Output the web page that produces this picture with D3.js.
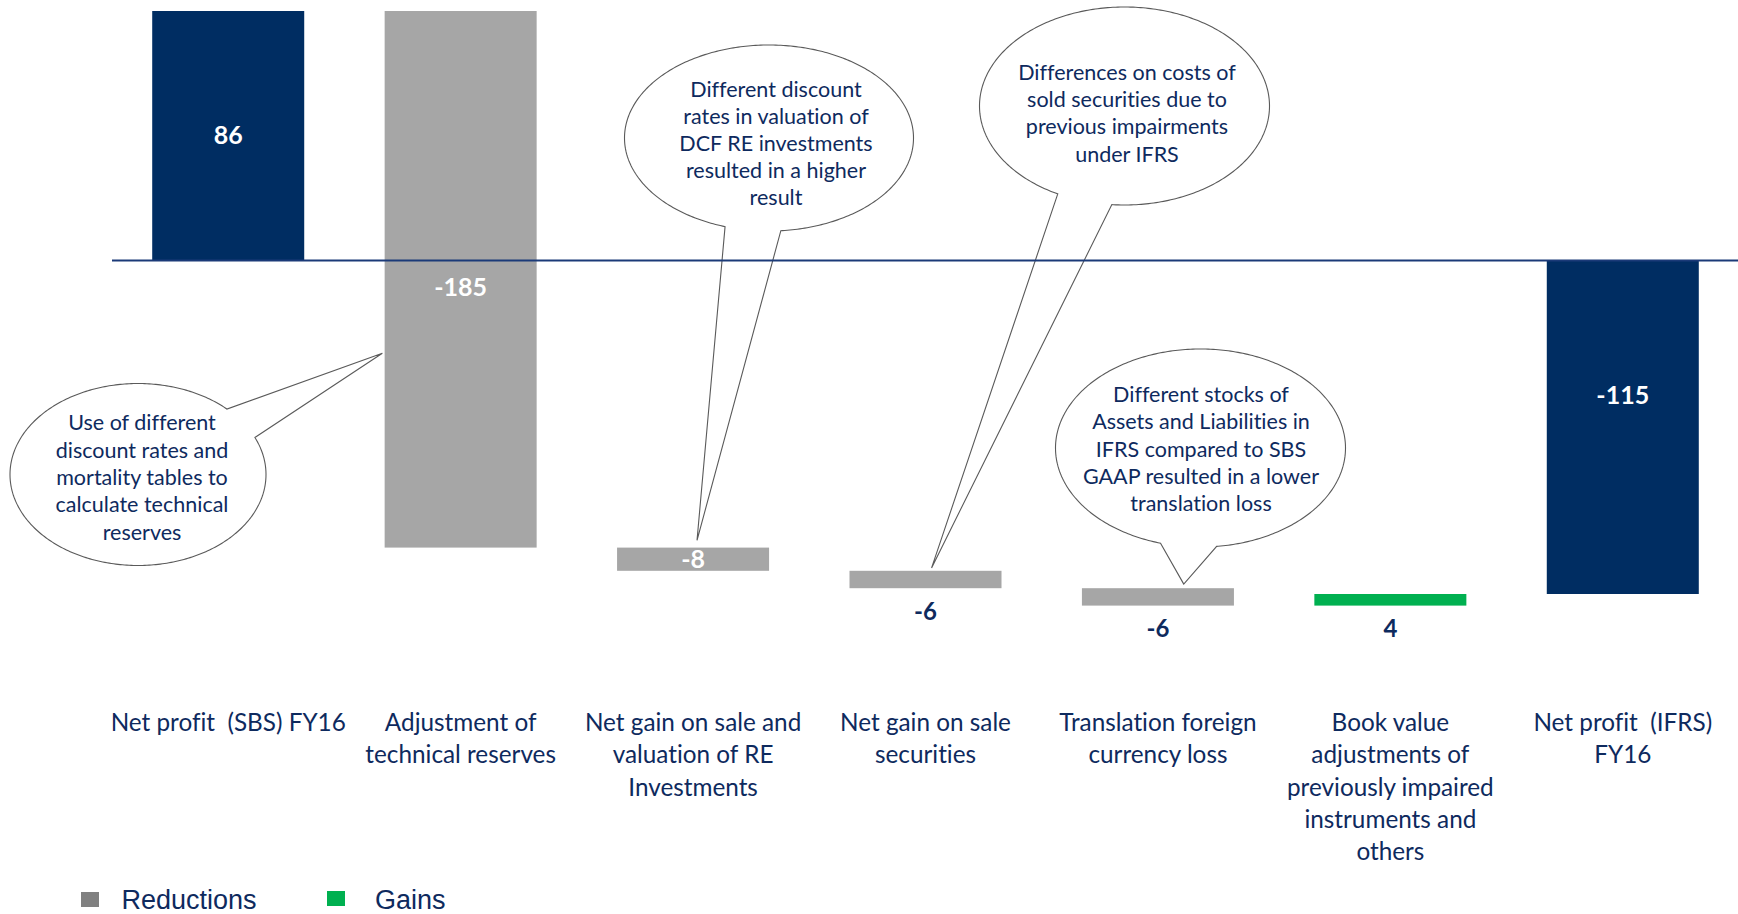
<!DOCTYPE html>
<html>
<head>
<meta charset="utf-8">
<script src="https://cdn.jsdelivr.net/npm/d3@7"></script>
<style>
  html, body { margin: 0; padding: 0; background: #fff; }
  svg { display: block; }
  text { white-space: pre; font-variant-ligatures: none; font-feature-settings: "liga" 0, "clig" 0; }
</style>
</head>
<body>
<svg id="chart" width="1738" height="914"></svg>
<script>
// ---------------- data ----------------
const categories = ["c1", "c2", "c3", "c4", "c5", "c6", "c7"];
const categoryLabels = [
  ["Net profit  (SBS) FY16"],
  ["Adjustment of", "technical reserves"],
  ["Net gain on sale and", "valuation of RE", "Investments"],
  ["Net gain on sale", "securities"],
  ["Translation foreign", "currency loss"],
  ["Book value", "adjustments of", "previously impaired", "instruments and", "others"],
  ["Net profit  (IFRS)", "FY16"]
];
const values = [86, -185, -8, -6, -6, 4, -115];
const barKinds = ["total", "reduction", "reduction", "reduction", "reduction", "gain", "total"];
const valueLabels = ["86", "-185", "-8", "-6", "-6", "4", "-115"];
const labelModes = ["inside", "insideTop", "inside", "below", "below", "below", "insideUpper"];
const legendItems = ["Reductions", "Gains"];

const calloutTexts = [
  ["Use of different", "discount rates and", "mortality tables to", "calculate technical", "reserves"],
  ["Different discount", "rates in valuation of", "DCF RE investments", "resulted in a higher", "result"],
  ["Differences on costs of", "sold securities due to", "previous impairments", "under IFRS"],
  ["Different stocks of", "Assets and Liabilities in", "IFRS compared to SBS", "GAAP resulted in a lower", "translation loss"]
];
// callout pointer targets: category index, fraction across the band, value
const calloutTargets = [
  { cat: 1, frac: -0.015, value: -32 },
  { cat: 2, frac: 0.526, value: -96.5 },
  { cat: 3, frac: 0.54, value: -106 },
  { cat: 4, frac: 0.67, value: -111.6 }
];

// ---------------- layout ----------------
const NAVY = "#002D62", GREY = "#A6A6A6", GREEN = "#00B050", TEXT = "#0E2A5E";
const colorOf = { total: NAVY, reduction: GREY, gain: GREEN };
const legendColors = ["#808080", GREEN];

// callout ellipse geometry (layout)
const calloutShapes = [
  { cx: 138, cy: 474.5, rx: 128, ry: 91, gap: [-46, -24], tx: 142, ty: 422.7, lh: 27.4 },
  { cx: 769, cy: 138, rx: 144.5, ry: 93, gap: [85.3, 107.7], tx: 776, ty: 89.3, lh: 27.1 },
  { cx: 1124.5, cy: 106, rx: 145, ry: 99, gap: [95, 117.4], tx: 1127, ty: 72.7, lh: 27.1 },
  { cx: 1200.5, cy: 448, rx: 145, ry: 99, gap: [83.6, 106], tx: 1201, ty: 394.3, lh: 27.4 }
];

const svg = d3.select("#chart");

// waterfall computation
let running = 0;
const bars = values.map((v, i) => {
  let start, end;
  if (barKinds[i] === "total") { start = 0; end = v; running = v; }
  else { start = running; end = running + v; running = end; }
  return { cat: categories[i], value: v, start, end, kind: barKinds[i], label: valueLabels[i], mode: labelModes[i], i };
});

const x = d3.scaleBand().domain(categories).range([112, 1739]).paddingInner(0.346).paddingOuter(0.173);
const y = d3.scaleLinear().domain([-115, 86]).range([594, 11]);

// bars
svg.append("g").selectAll("rect").data(bars).join("rect")
  .attr("x", d => x(d.cat))
  .attr("width", x.bandwidth())
  .attr("y", d => y(Math.max(d.start, d.end)))
  .attr("height", d => Math.abs(y(d.start) - y(d.end)))
  .attr("fill", d => colorOf[d.kind]);

// value labels
svg.append("g").selectAll("text").data(bars).join("text")
  .attr("x", d => x(d.cat) + x.bandwidth() / 2)
  .attr("y", d => {
    const top = y(Math.max(d.start, d.end)), bot = y(Math.min(d.start, d.end));
    if (d.mode === "inside") return (top + bot) / 2;
    if (d.mode === "insideTop") return y(0) + 27;
    if (d.mode === "insideUpper") return y(0) + 0.405 * (bot - y(0));
    return bot + 23;
  })
  .attr("dy", "0.35em")
  .attr("text-anchor", "middle")
  .attr("font-family", "Lato, 'Open Sans', sans-serif")
  .attr("font-weight", "bold")
  .attr("font-size", d => d.mode === "below" ? 24 : 25)
  .attr("fill", d => d.mode === "below" ? TEXT : "#fff")
  .text(d => d.label);

// callouts
const callG = svg.append("g");
calloutShapes.forEach((s, k) => {
  const t = calloutTargets[k];
  const tip = [x(categories[t.cat]) + t.frac * x.bandwidth(), y(t.value)];
  const pts = [tip];
  const a0 = s.gap[1], a1 = s.gap[0] + 360;
  for (let a = a0; a <= a1 + 1e-9; a += 1) {
    const r = a * Math.PI / 180;
    pts.push([s.cx + s.rx * Math.cos(r), s.cy + s.ry * Math.sin(r)]);
  }
  const rEnd = a1 * Math.PI / 180;
  pts.push([s.cx + s.rx * Math.cos(rEnd), s.cy + s.ry * Math.sin(rEnd)]);
  callG.append("path")
    .attr("d", d3.line()(pts) + "Z")
    .attr("fill", "#fff")
    .attr("stroke", "#5a5a5a")
    .attr("stroke-width", 1.1);
  const tx = callG.append("text")
    .attr("text-anchor", "middle")
    .attr("font-family", "Lato, 'Open Sans', sans-serif")
    .attr("font-size", 21.5)
    .attr("fill", TEXT);
  calloutTexts[k].forEach((line, j) => {
    tx.append("tspan").attr("x", s.tx).attr("y", s.ty + j * s.lh).attr("dy", "0.35em").text(line);
  });
});

// zero baseline
svg.append("line")
  .attr("x1", x.range()[0]).attr("x2", 1738)
  .attr("y1", y(0)).attr("y2", y(0))
  .attr("stroke", "#1B3A78").attr("stroke-width", 2);

// category axis
const axis = d3.axisBottom(x).tickSize(0).tickFormat("");
const axG = svg.append("g").attr("transform", "translate(0,722.7)").call(axis);
axG.select(".domain").remove();
axG.selectAll(".tick").each(function(d, i) {
  const t = d3.select(this).append("text")
    .attr("text-anchor", "middle")
    .attr("font-family", "Lato, 'Open Sans', sans-serif")
    .attr("font-size", 24.3)
    .attr("fill", TEXT)
    .attr("xml:space", "preserve");
  categoryLabels[i].forEach((line, j) => {
    t.append("tspan").attr("x", 0).attr("y", j * 32.2).attr("dy", "0.35em").text(line);
  });
});

// legend
const legX = [81, 327];
const legTextX = [121.5, 375];
const leg = svg.append("g");
legendItems.forEach((name, i) => {
  leg.append("rect").attr("x", legX[i]).attr("y", 892 - i).attr("width", 18).attr("height", 15).attr("fill", legendColors[i]);
  leg.append("text").attr("x", legTextX[i]).attr("y", 909.3)
    .attr("font-family", "'Liberation Sans', Arial, sans-serif")
    .attr("font-size", 27).attr("fill", TEXT).text(name);
});
</script>
</body>
</html>
